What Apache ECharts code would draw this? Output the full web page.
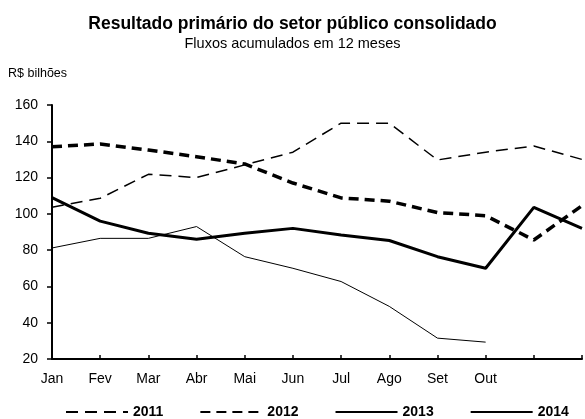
<!DOCTYPE html>
<html>
<head>
<meta charset="utf-8">
<script src="https://cdn.jsdelivr.net/npm/echarts@6/dist/echarts.min.js"></script>
<style>
    html, body { margin: 0; padding: 0; background: #fff; }
    #chart { width: 585px; height: 419px; }
</style>
</head>
<body>
<div id="chart"></div>
<script>
// Meses (Nov e Dez sem rotulo no original)
var months     = ['Jan', 'Fev', 'Mar', 'Abr', 'Mai', 'Jun', 'Jul', 'Ago', 'Set', 'Out', 'Nov', 'Dez'];
var tickLabels = ['Jan', 'Fev', 'Mar', 'Abr', 'Mai', 'Jun', 'Jul', 'Ago', 'Set', 'Out', '', ''];

// R$ bilhoes, fluxos acumulados em 12 meses
var s2011 = [103.6, 108.6, 121.8, 120, 127, 134, 150, 150, 129.7, 134, 137.4, 130];
var s2012 = [137, 138.5, 135.2, 131.5, 127.5, 117, 108.8, 107, 100.7, 99, 85.6, 104.5];
var s2013 = [109, 96, 89.3, 86, 89.3, 92, 88.4, 85.3, 76.4, 70, 103.6, 92];
var s2014 = [81.2, 86.5, 86.5, 93, 76.4, 70, 62.7, 49, 31.5, 29.3];

var yTicks = [20, 40, 60, 80, 100, 120, 140, 160];

var font = 'Liberation Sans, Arial, sans-serif';

var chart = echarts.init(document.getElementById('chart'));

function lineSeries(name, data, width, dash) {
    return {
        name: name,
        type: 'line',
        data: data,
        symbol: 'none',
        smooth: false,
        lineStyle: {
            color: '#000',
            width: width,
            type: dash || 'solid'
        },
        itemStyle: { color: '#000' }
    };
}

chart.setOption({
    animation: false,
    backgroundColor: '#fff',
    textStyle: { fontFamily: font },
    title: [{
        text: 'Resultado primário do setor público consolidado',
        left: 'center',
        top: 15,
        padding: 0,
        textStyle: { fontSize: 17.5, fontWeight: 'bold', color: '#000', fontFamily: font }
    }, {
        text: 'Fluxos acumulados em 12 meses',
        left: 'center',
        top: 36,
        padding: 0,
        textStyle: { fontSize: 14.5, fontWeight: 'normal', color: '#000', fontFamily: font }
    }, {
        text: 'R$ bilhões',
        left: 8,
        top: 67,
        padding: 0,
        textStyle: { fontSize: 12.5, fontWeight: 'normal', color: '#000', fontFamily: font }
    }],
    legend: {
        top: 405,
        left: 65,
        padding: 0,
        itemWidth: 62,
        itemHeight: 14,
        itemGap: 36,
        itemStyle: { opacity: 0 },
        textStyle: { fontSize: 14, fontWeight: 'bold', color: '#000', fontFamily: font },
        data: ['2011', '2012', '2013', '2014']
    },
    grid: {
        left: 52,
        right: -6,
        top: 105,
        bottom: 60,
        containLabel: false
    },
    xAxis: {
        type: 'category',
        data: months,
        boundaryGap: false,
        axisLine: { lineStyle: { color: '#000', width: 2 } },
        axisTick: { show: true, inside: true, length: 4, lineStyle: { color: '#000', width: 1.5 } },
        axisLabel: {
            color: '#000',
            fontSize: 14,
            margin: 13,
            interval: 0,
            formatter: function (v, i) { return tickLabels[i]; }
        },
        splitLine: { show: false }
    },
    yAxis: {
        type: 'value',
        min: yTicks[0],
        max: yTicks[yTicks.length - 1],
        interval: 20,
        axisLine: { show: true, lineStyle: { color: '#000', width: 2 } },
        axisTick: { show: true, length: 5, lineStyle: { color: '#000', width: 1.5 } },
        axisLabel: { color: '#000', fontSize: 14, margin: 14 },
        splitLine: { show: false }
    },
    series: [
        lineSeries('2011', s2011, 1.5, [12, 7]),
        lineSeries('2012', s2012, 3.5, [10, 6]),
        lineSeries('2013', s2013, 3),
        lineSeries('2014', s2014, 1)
    ]
});
</script>
</body>
</html>
